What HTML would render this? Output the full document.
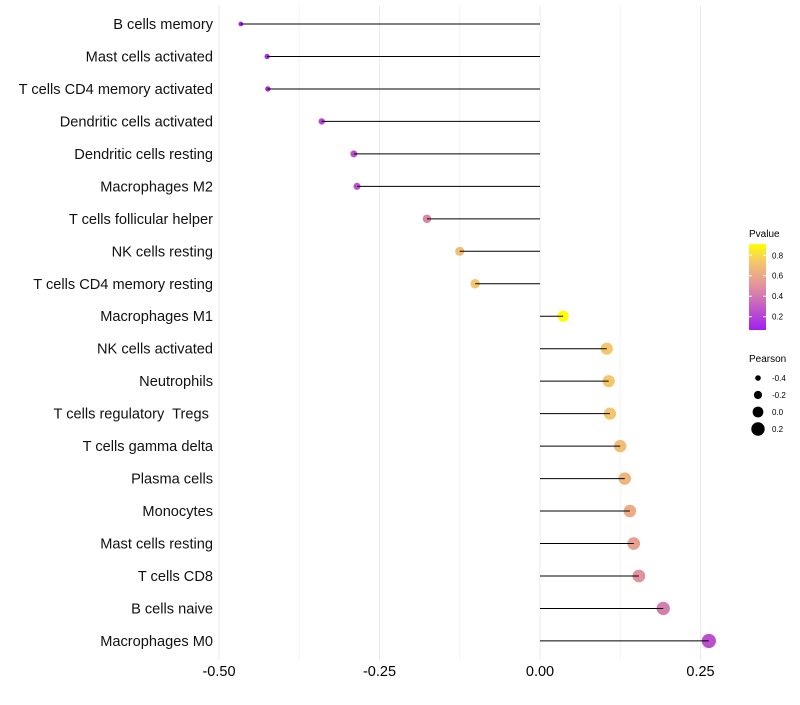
<!DOCTYPE html>
<html><head><meta charset="utf-8"><style>
body{margin:0;background:#fff;font-family:"Liberation Sans",sans-serif}
text{white-space:pre}
</style></head><body>
<svg id="chart" width="800" height="700" xmlns="http://www.w3.org/2000/svg" font-family="Liberation Sans, sans-serif">
<defs><linearGradient id="pg" x1="0" y1="1" x2="0" y2="0">
<stop offset="0" stop-color="#a020f0"/><stop offset="0.5" stop-color="#e0909f"/><stop offset="0.8" stop-color="#f5c86a"/><stop offset="1" stop-color="#ffff00"/></linearGradient></defs>
<g id="grid"></g><g id="marks"></g><g id="labels"></g>
<g>
<text x="749" y="237" font-size="10">Pvalue</text>
<rect x="749" y="244" width="17" height="86" fill="url(#pg)"/>
<g id="cbticks"></g>
</g>
<g id="sizeleg">
<text x="749" y="362" font-size="10">Pearson</text>
</g>
</svg>
<script>
const categories=["B cells memory","Mast cells activated","T cells CD4 memory activated","Dendritic cells activated","Dendritic cells resting","Macrophages M2","T cells follicular helper","NK cells resting","T cells CD4 memory resting","Macrophages M1","NK cells activated","Neutrophils","T cells regulatory  Tregs ","T cells gamma delta","Plasma cells","Monocytes","Mast cells resting","T cells CD8","B cells naive","Macrophages M0"];
const pearson=[-0.466,-0.425,-0.424,-0.340,-0.290,-0.285,-0.176,-0.125,-0.101,0.036,0.104,0.107,0.109,0.125,0.132,0.140,0.146,0.154,0.192,0.263];
const pvalues=[0.08,0.1,0.1,0.2,0.25,0.25,0.45,0.7,0.74,0.91,0.74,0.74,0.74,0.7,0.66,0.62,0.57,0.5,0.42,0.25];
const xTicks=[-0.5,-0.25,0,0.25];
const xTickLabels=["-0.50","-0.25","0.00","0.25"];
const cbTicks=[0.2,0.4,0.6,0.8];
const sizeTicks=[-0.4,-0.2,0.0,0.2];
const NS="http://www.w3.org/2000/svg";
const X=v=>540+v*642;
const Y=i=>24+i*32.47;
const R=v=>Math.max(1.8,5.4+6.5*v);
const stops=[[0.07,[160,32,240]],[0.49,[224,144,159]],[0.75,[245,200,106]],[0.91,[255,255,0]]];
function col(p){p=Math.min(Math.max(p,0.07),0.91);for(let k=0;k<stops.length-1;k++){const a=stops[k],b=stops[k+1];if(p<=b[0]){const t=(p-a[0])/(b[0]-a[0]);return "rgb("+a[1].map((c,j)=>Math.round(c+(b[1][j]-c)*t)).join(",")+")";}}return "rgb(255,255,0)";}
function mk(t,a,par){const e=document.createElementNS(NS,t);for(const k in a)e.setAttribute(k,a[k]);document.getElementById(par).appendChild(e);return e;}
[-0.375,-0.125,0.125].forEach(v=>{const l=mk("line",{x1:X(v),x2:X(v),y1:5,y2:660,stroke:"#f3f3f3","stroke-width":1},"grid");

});
xTicks.forEach((v,i)=>{const l=mk("line",{x1:X(v),x2:X(v),y1:5,y2:660,stroke:"#ebebeb","stroke-width":1},"grid");


const t=mk("text",{x:X(v),y:676,"font-size":14.5,"text-anchor":"middle"},"labels");t.textContent=xTickLabels[i];

});
categories.forEach((c,i)=>{const y=Y(i);
const t=mk("text",{x:213,y:y+5,"font-size":14.6,"text-anchor":"end",fill:"#111"},"labels");t.textContent=c;


const ci=mk("circle",{cx:X(pearson[i]),cy:y,r:R(pearson[i]),fill:col(pvalues[i])},"marks");


const l=mk("line",{x1:X(0),x2:X(pearson[i]),y1:y,y2:y,stroke:"#000","stroke-width":1},"marks");

});
cbTicks.forEach(v=>{const y=330-(v-0.07)/0.84*86;
const t=mk("text",{x:772,y:y+3,"font-size":8},"cbticks");t.textContent=v.toFixed(1);


mk("line",{x1:749,x2:752,y1:y,y2:y,stroke:"#fff"},"cbticks");
mk("line",{x1:763,x2:766,y1:y,y2:y,stroke:"#fff"},"cbticks");});
sizeTicks.forEach((v,i)=>{const y=378+i*17;
const c=mk("circle",{cx:758,cy:y,r:R(v),fill:"#000"},"sizeleg");


const t=mk("text",{x:772,y:y+3,"font-size":8},"sizeleg");t.textContent=v.toFixed(1);

});
</script>
</body></html>
